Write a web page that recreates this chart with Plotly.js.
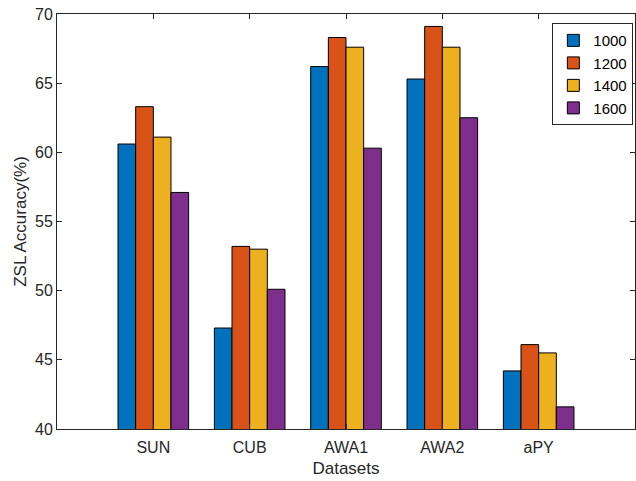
<!DOCTYPE html>
<html>
<head>
<meta charset="utf-8">
<script src="https://cdn.plot.ly/plotly-3.0.1.min.js"></script>
<style>html,body{margin:0;padding:0;background:#fff;}#chart{width:636px;height:481px;}</style>
</head>
<body>
<div id="chart"></div>
<script>
const categories = ["SUN", "CUB", "AWA1", "AWA2", "aPY"];
const seriesNames = ["1000", "1200", "1400", "1600"];
const v1000 = [60.6, 47.3, 66.2, 65.3, 44.2];
const v1200 = [63.3, 53.2, 68.3, 69.1, 46.1];
const v1400 = [61.1, 53.0, 67.6, 67.6, 45.5];
const v1600 = [57.1, 50.1, 60.3, 62.5, 41.6];
const colors = ["#0072BD", "#D95319", "#EDB120", "#7E2F8E"];
const seriesValues = [v1000, v1200, v1400, v1600];

const traces = seriesValues.map((vals, i) => ({
  type: "bar",
  name: seriesNames[i],
  x: categories,
  y: vals,
  marker: {color: colors[i], line: {color: "#000000", width: 1}}
}));

const axisColor = "#262626";
const layout = {
  width: 636, height: 481,
  margin: {l: 57, r: 1, t: 14, b: 52},
  paper_bgcolor: "#ffffff", plot_bgcolor: "#ffffff",
  font: {family: "Liberation Sans, Arial, sans-serif", size: 16, color: axisColor},
  barmode: "group",
  bargap: 0.267,
  bargroupgap: 0,
  showlegend: true,
  legend: {
    x: 0.857, y: 0.978, xanchor: "left", yanchor: "top",
    bordercolor: axisColor, borderwidth: 1, bgcolor: "#ffffff",
    font: {size: 15, color: "#000000"},
    tracegroupgap: 0
  },
  xaxis: {
    type: "category",
    range: [-1, 5],
    showline: true, linecolor: axisColor, linewidth: 1, mirror: "ticks",
    ticks: "inside", ticklen: 5, tickcolor: axisColor, tickwidth: 1,
    showgrid: false, zeroline: false,
    ticklabelstandoff: 4,
    tickfont: {size: 16, color: axisColor},
    title: {text: "Datasets", font: {size: 17, color: axisColor}, standoff: 6}
  },
  yaxis: {
    range: [40, 70],
    tickvals: [40, 45, 50, 55, 60, 65, 70],
    showline: true, linecolor: axisColor, linewidth: 1, mirror: "ticks",
    ticks: "inside", ticklen: 5, tickcolor: axisColor, tickwidth: 1,
    showgrid: false, zeroline: false,
    tickfont: {size: 16, color: axisColor},
    title: {text: "ZSL Accuracy(%)", font: {size: 17, color: axisColor}, standoff: 4}
  }
};

Plotly.newPlot("chart", traces, layout, {displayModeBar: false, staticPlot: true});
</script>
</body>
</html>
